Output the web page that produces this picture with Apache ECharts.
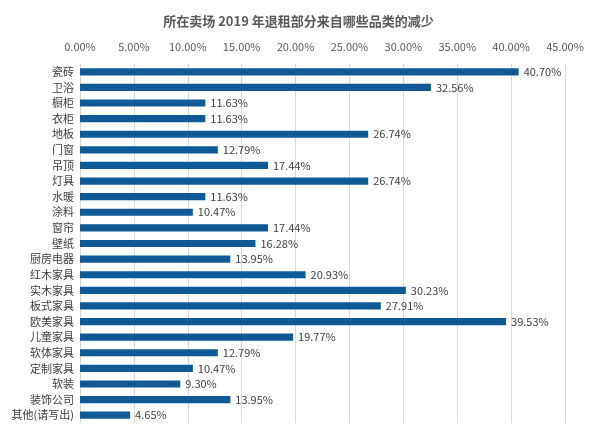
<!DOCTYPE html>
<html lang="zh">
<head>
<meta charset="UTF-8">
<title>退租品类</title>
<script src="https://cdn.jsdelivr.net/npm/echarts@6/dist/echarts.min.js"></script>
<style>
  html, body { margin: 0; padding: 0; background: #fff; }
  #bar_chart { width: 597px; height: 438px; }
</style>
</head>
<body>
<div id="bar_chart"></div>
<script type="text/javascript">
	var categories = ['瓷砖', '卫浴', '橱柜', '衣柜', '地板', '门窗', '吊顶', '灯具', '水暖', '涂料', '窗帘', '壁纸',
		'厨房电器', '红木家具', '实木家具', '板式家具', '欧美家具', '儿童家具', '软体家具', '定制家具', '软装', '装饰公司', '其他(请写出)'];
	var values = [40.70, 32.56, 11.63, 11.63, 26.74, 12.79, 17.44, 26.74, 11.63, 10.47, 17.44, 16.28,
		13.95, 20.93, 30.23, 27.91, 39.53, 19.77, 12.79, 10.47, 9.30, 13.95, 4.65];

	var font = '"Microsoft YaHei", "Noto Sans CJK SC", sans-serif';
	var bar_chart = echarts.init(document.getElementById('bar_chart'));
	var bar_option = {
		animation: false,
		title: {
			text: '所在卖场 2019 年退租部分来自哪些品类的减少',
			left: 'center',
			top: 10,
			textStyle: { fontSize: 13, fontWeight: 'bold', color: '#595959', fontFamily: font }
		},
		grid: { left: 80, right: 32, top: 64, bottom: 15 },
		xAxis: {
			type: 'value',
			position: 'top',
			min: 0,
			max: 45,
			interval: 5,
			axisLine: { show: false },
			axisTick: { show: false },
			axisLabel: {
				color: '#595959', fontSize: 11, fontFamily: font, margin: 12,
				formatter: function (v) { return v.toFixed(2) + '%'; }
			},
			splitLine: { lineStyle: { color: '#d9d9d9', width: 1 } }
		},
		yAxis: {
			type: 'category',
			inverse: true,
			data: categories,
			axisLine: { show: false },
			axisTick: { show: false },
			axisLabel: { color: '#404040', fontSize: 11, fontFamily: font, margin: 6 }
		},
		series: [{
			type: 'bar',
			data: values,
			barWidth: '46%',
			itemStyle: { color: '#0f5a96' },
			label: {
				show: true,
				position: 'right',
				distance: 5,
				color: '#404040',
				fontSize: 11,
				fontFamily: font,
				formatter: function (p) { return p.value.toFixed(2) + '%'; }
			}
		}]
	};
	bar_chart.setOption(bar_option);
</script>
</body>
</html>
